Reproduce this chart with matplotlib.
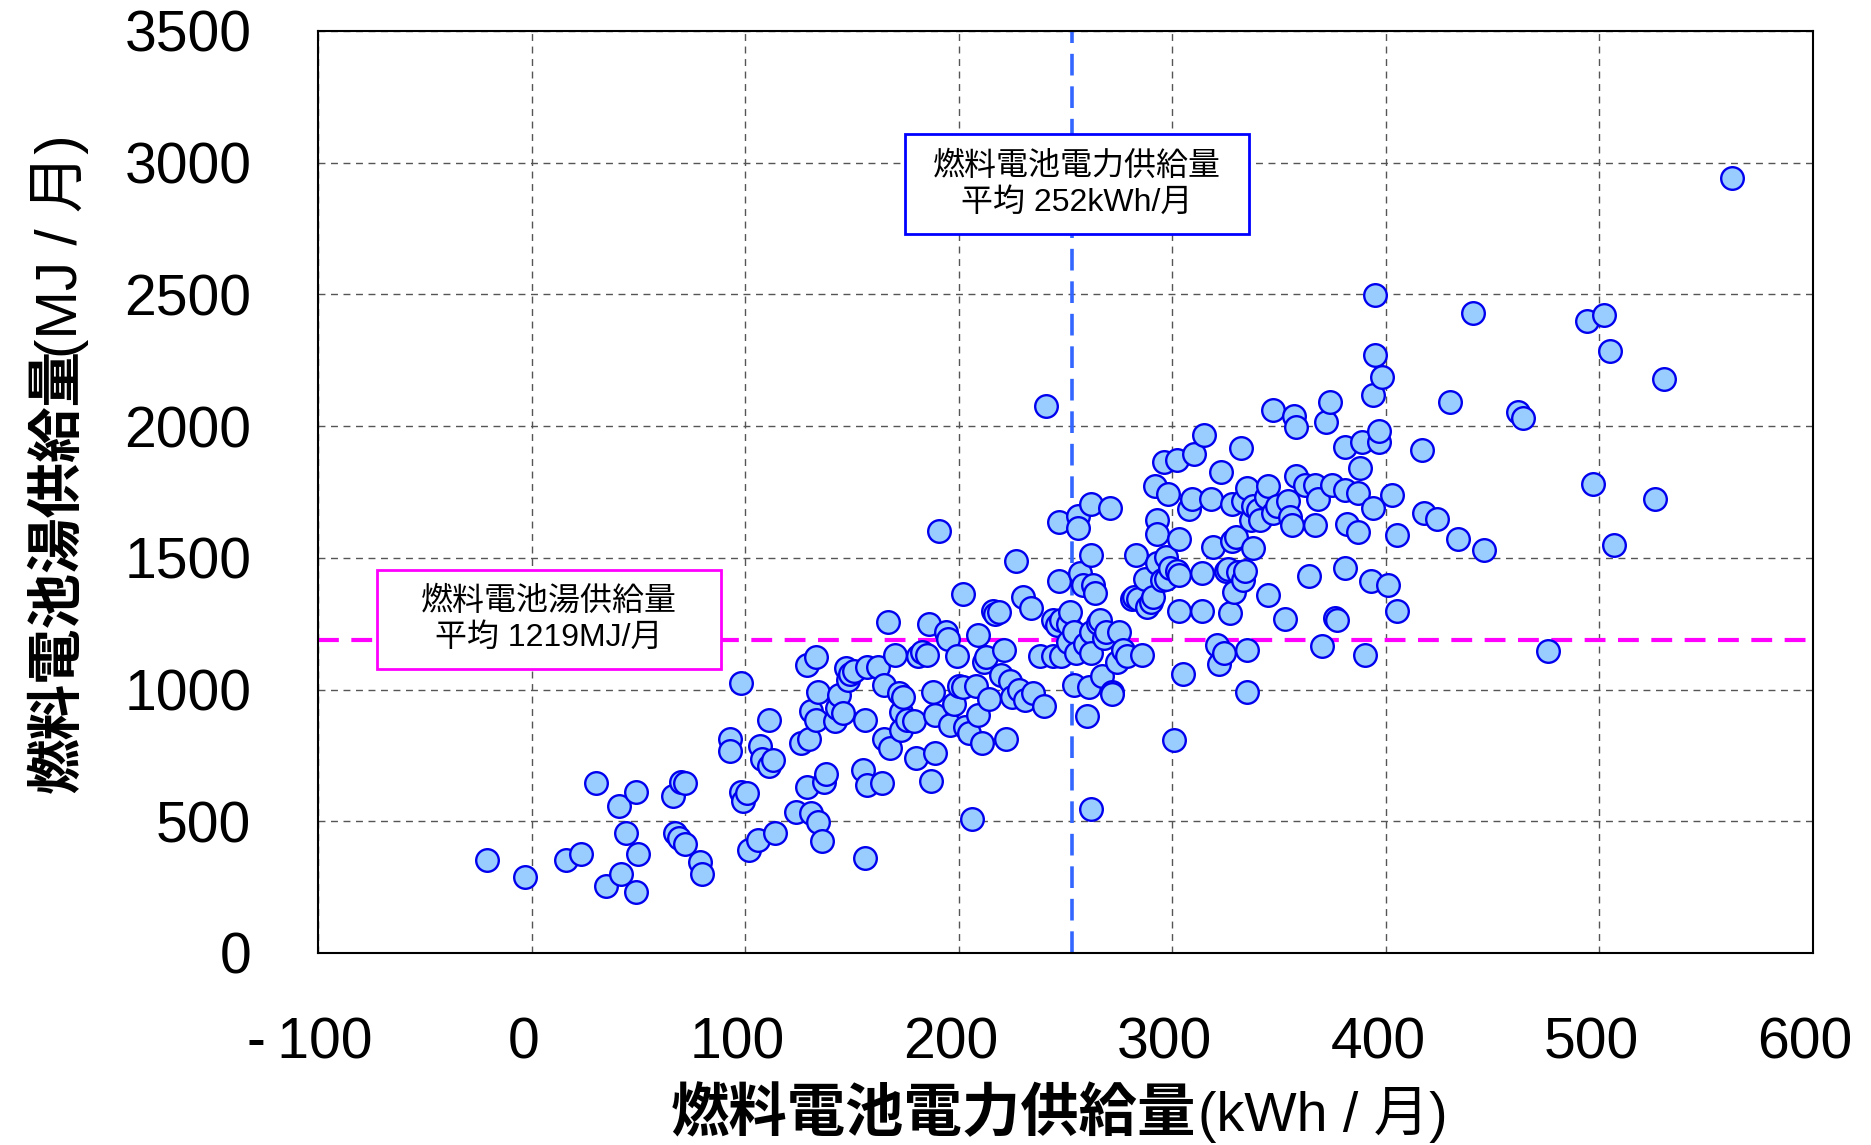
"""
Fuel cell monthly supply: electricity vs hot water scatter.
"""

import matplotlib
matplotlib.use("Agg")
import matplotlib.pyplot as plt
from matplotlib.transforms import ScaledTranslation

CJK = ["Liberation Sans", "Noto Sans CJK JP", "DejaVu Sans"]
plt.rcParams["font.family"] = CJK

# monthly electric supply (kWh) / hot water supply (MJ)
elec_kwh = [
    -21, -3, 16, 23, 30, 35, 41, 42, 44, 49, 49, 50, 66, 70, 72, 67, 69, 72, 79, 80, 93, 93, 98,
    98, 99, 101, 102, 106, 107, 108, 111, 111, 113, 114, 124, 126, 129, 129, 130, 131, 131,
    133, 133, 134, 134, 136, 137, 138, 142, 143, 144, 146, 147, 148, 149, 151, 155, 156, 156,
    157, 157, 162, 164, 165, 165, 167, 168, 170, 172, 173, 173, 174, 176, 179, 180, 181, 183,
    185, 186, 187, 188, 189, 189, 191, 194, 195, 196, 198, 199, 200, 202,
    202, 203, 205, 206, 208, 209, 209, 211, 212, 213, 214, 216, 217, 219, 220, 221, 222, 224,
    225, 227, 228, 230, 231, 234, 235, 238, 240, 241, 244, 244, 246, 247, 247, 248, 248, 251,
    251, 252, 254, 254, 255, 256, 256, 257, 258, 259, 260, 261, 262, 262, 262, 262, 262, 263,
    264, 265, 266, 267, 268, 269, 271, 272, 272, 274, 275, 277, 279, 281, 282, 283, 284, 286,
    287, 288, 290, 291, 292, 293, 293, 293, 295, 296, 297, 297, 298, 299,
    301, 302, 302, 303, 303, 303, 305, 308, 309, 310, 314, 314, 315, 318, 319, 321, 322, 323,
    324, 325, 326, 327, 328, 328, 329, 330, 331, 332, 333, 333, 334, 335, 335, 335, 337, 338,
    338, 340, 341, 344, 345, 345, 347, 347, 349, 353, 354, 355, 356, 357, 358, 358, 362, 364,
    367, 367, 368, 370, 372, 374, 375, 376, 377, 381, 381, 381, 382, 387, 387, 388, 389, 390,
    393, 394, 394, 395, 395, 397, 397, 398, 401, 403, 405, 405,
    417, 418, 424, 430, 434, 441, 446, 462, 464, 476, 494, 497, 502, 505, 507, 526, 530, 562,
]
heat_mj = [
    352, 289, 352, 374, 645, 253, 559, 298, 456, 613, 230, 374, 595, 650, 645, 456, 438, 415,
    347, 298, 812, 767, 1024,
    613, 577, 609, 392, 428, 785, 735, 884, 708, 731, 456, 537, 798, 1092, 631, 812, 532, 920,
    884, 1123, 496, 992, 424, 650, 681, 880, 929, 979, 911, 1083, 1037, 1060, 1069, 695, 361,
    884, 1087, 636, 1087, 645, 1019, 812, 1258, 780, 1132, 988, 916, 848, 970, 884, 880, 740,
    1128, 1141, 1132, 1249, 654, 992, 758, 902, 1601, 1218, 1191, 866, 947, 1128, 1015, 1010,
    1362, 857, 834, 510, 1015, 902, 1209, 798, 1105, 1123, 965, 1299, 1285, 1294, 1055, 1150,
    812, 1033, 970, 1488, 997, 1353, 961, 1308, 988, 1128, 938, 2075, 1263, 1128, 1245, 1637,
    1412, 1263, 1128, 1249, 1182, 1294, 1019, 1218, 1137, 1660, 1615, 1443, 1398, 1173, 898,
    1010, 1218, 1137, 1705, 546, 1511, 1398, 1367, 1254, 1263, 1051, 1195, 1218, 1691, 992,
    983, 1105, 1218, 1150, 1128, 1344, 1353, 1511, 1344, 1132, 1421, 1312, 1331, 1353, 1773,
    1642, 1592, 1479, 1416, 1863, 1502, 1421, 1741, 1461,
    807, 1452, 1872, 1570, 1299, 1434, 1060, 1687, 1723, 1895, 1443, 1299, 1967, 1723, 1543,
    1168, 1096, 1827, 1137, 1452, 1457, 1290, 1705, 1565, 1371, 1579, 1448, 1917, 1714, 1416,
    1452, 992, 1150, 1764, 1642, 1696, 1538, 1682, 1642, 1732, 1773, 1358, 2061, 1669, 1696,
    1267, 1714, 1655, 1624, 2039, 1998, 1809, 1777, 1430, 1777, 1624, 1723, 1164, 2016, 2093,
    1777, 1272, 1263, 1922, 1461, 1759, 1628, 1597, 1746, 1840, 1940, 1132, 1412, 2120, 1691,
    2499, 2269, 1940, 1980, 2188, 1398, 1737, 1588, 1299,
    1908, 1669, 1646, 2093, 1570, 2431, 1529, 2052, 2030, 1146, 2400, 1782, 2422, 2287, 1547,
    1723, 2179, 2941,
]

avg_elec = 253
avg_heat = 1188
elec_note = "燃料電池電力供給量\n平均 252kWh/月"
heat_note = "燃料電池湯供給量\n平均 1219MJ/月"

W, H = 1871, 1145
fig = plt.figure(figsize=(W / 100, H / 100), dpi=100)
ax = fig.add_axes([318 / W, 1 - 953 / H, (1813 - 318) / W, (953 - 31) / H])

ax.set_xlim(-100, 600)
ax.set_ylim(0, 3500)
ax.set_xticks(range(-100, 601, 100))
ax.set_yticks(range(0, 3501, 500))
ax.set_xticklabels(["-\u2009100"] + [str(v) for v in range(0, 601, 100)])
ax.tick_params(axis="both", length=0, labelsize=41)
ax.tick_params(axis="y", pad=48)
ax.tick_params(axis="x", pad=46)
shift = ScaledTranslation(-8 / 100, 0, fig.dpi_scale_trans)
for lbl in ax.get_xticklabels():
    lbl.set_transform(lbl.get_transform() + shift)
ax.grid(True, color="#555555", linestyle=(0, (5, 4)), linewidth=1.0)
ax.set_axisbelow(True)
for sp in ax.spines.values():
    sp.set_linewidth(1.5)
    sp.set_color("black")

ax.axvline(avg_elec, color="#3366ff", linestyle=(0, (6, 3)), linewidth=2.6, zorder=2)
ax.axhline(avg_heat, color="#ff00ff", linestyle=(0, (5, 3)), linewidth=3.0, zorder=2)

ax.scatter(elec_kwh, heat_mj, s=265, facecolor="#99ccff", edgecolor="#0000ee",
           linewidth=1.7, zorder=3)

# annotation boxes (figure pixel placement)
fig.patches.append(plt.Rectangle((905 / W, 1 - 234 / H), 344 / W, 100 / H,
                                 transform=fig.transFigure, facecolor="white",
                                 edgecolor="#0000ff", linewidth=2, zorder=5))
fig.text(1077 / W, 1 - 185 / H, elec_note, ha="center", va="center", fontsize=23,
         linespacing=1.25, zorder=6)
fig.patches.append(plt.Rectangle((377 / W, 1 - 669 / H), 344 / W, 99 / H,
                                 transform=fig.transFigure, facecolor="white",
                                 edgecolor="#ff00ff", linewidth=2, zorder=5))
fig.text(549 / W, 1 - 620 / H, heat_note, ha="center", va="center", fontsize=23,
         linespacing=1.25, zorder=6)

# axis labels: bold kanji part + regular unit part
fig.text(1196 / W, 1 - 1115 / H, "燃料電池電力供給量", ha="right", va="center",
         fontsize=42, fontweight="bold")
fig.text(1198 / W, 1 - 1115 / H, "(kWh / 月)", ha="left", va="center", fontsize=40)
fig.text(60 / W, 1 - 793 / H, "燃料電池湯供給量", ha="center", va="bottom",
         rotation=90, fontsize=40, fontweight="bold")
fig.text(60 / W, 1 - 358 / H, "(MJ / 月)", ha="center", va="bottom", rotation=90,
         fontsize=42)

fig.savefig("out.png", dpi=100)
